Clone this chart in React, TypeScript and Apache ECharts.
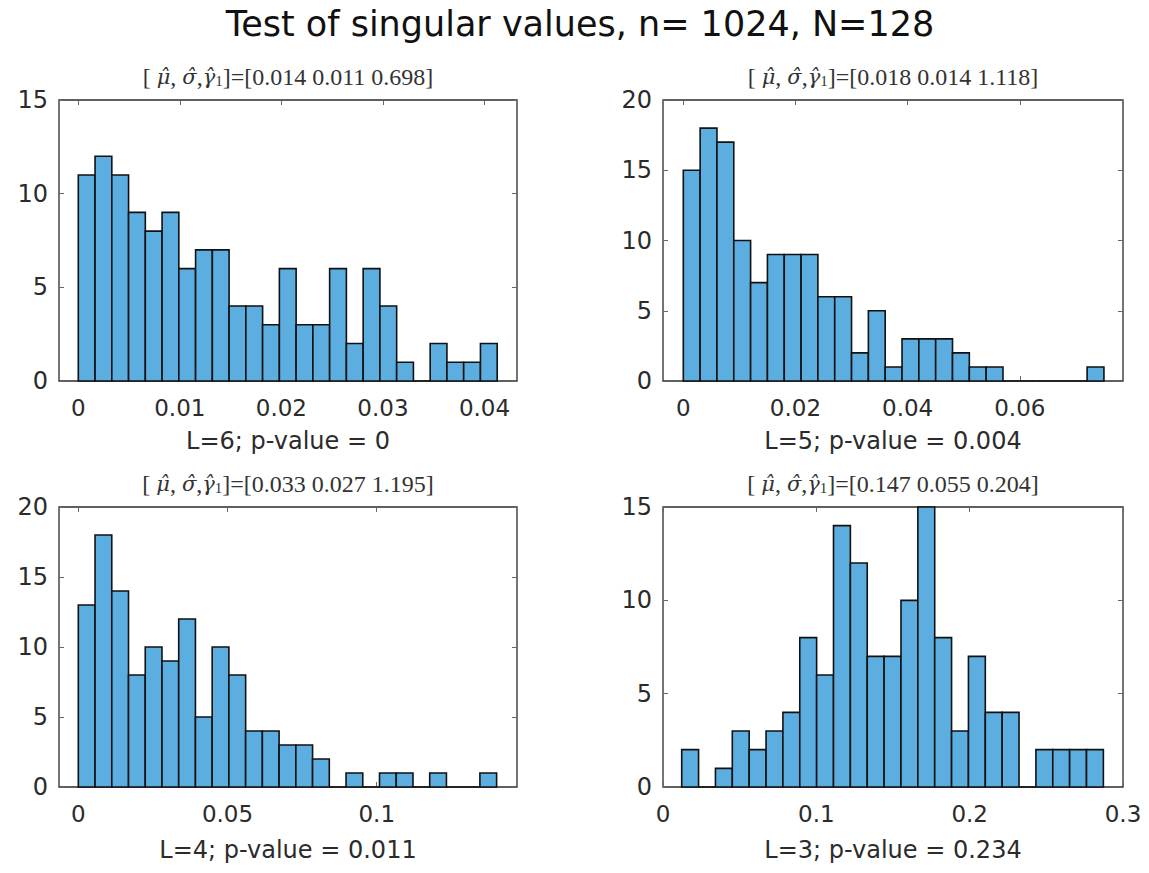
import React, { useEffect, useRef } from "react";
import * as echarts from "echarts";

// ---- data ----
const counts1 = [11, 12, 11, 9, 8, 9, 6, 7, 7, 4, 4, 3, 6, 3, 3, 6, 2, 6, 4, 1, 0, 2, 1, 1, 2];
const counts2 = [15, 18, 17, 10, 7, 9, 9, 9, 6, 6, 2, 5, 1, 3, 3, 3, 2, 1, 1, 0, 0, 0, 0, 0, 1];
const counts3 = [13, 18, 14, 8, 10, 9, 12, 5, 10, 8, 4, 4, 3, 3, 2, 0, 1, 0, 1, 1, 0, 1, 0, 0, 1];
const counts4 = [2, 0, 1, 3, 2, 3, 4, 8, 6, 14, 12, 7, 7, 10, 15, 8, 3, 7, 4, 4, 0, 2, 2, 2, 2];

const binStarts = [0, 0, 0, 0.0122];
const binWidths = [0.00165, 0.003, 0.005607, 0.011];

const xTicks1 = [0, 0.01, 0.02, 0.03, 0.04];
const xTicks2 = [0, 0.02, 0.04, 0.06];
const xTicks3 = [0, 0.05, 0.1];
const xTicks4 = [0, 0.1, 0.2, 0.3];
const yTicks15 = [0, 5, 10, 15];
const yTicks20 = [0, 5, 10, 15, 20];

const mainTitle = "Test of singular values, n= 1024, N=128";
const statValues = ["0.014 0.011 0.698", "0.018 0.014 1.118", "0.033 0.027 1.195", "0.147 0.055 0.204"];
const xNames = [
  "L=6; p-value = 0",
  "L=5; p-value = 0.004",
  "L=4; p-value = 0.011",
  "L=3; p-value = 0.234",
];

// ---- layout ----
const grids = [
  { left: 59, top: 100, width: 458, height: 281 },
  { left: 663, top: 100, width: 460, height: 281 },
  { left: 59, top: 507, width: 458, height: 280 },
  { left: 663, top: 507, width: 460, height: 280 },
];
const xRanges = [
  [-0.0019, 0.0432],
  [-0.00362, 0.0784],
  [-0.00647, 0.147],
  [0, 0.3],
];
const yMaxes = [15, 20, 20, 15];
const xTickSets = [xTicks1, xTicks2, xTicks3, xTicks4];
const yTickSets = [yTicks15, yTicks20, yTicks20, yTicks15];
const countSets = [counts1, counts2, counts3, counts4];
const nameGaps = [48, 48, 51, 51];

const AXIS_COLOR = "#2b2b2b";
const TICK_COLOR = "#666";
const BAR_COLOR = "#5cade0";
const SANS = "'DejaVu Sans', sans-serif";
const SERIF = "'Liberation Serif', 'Times New Roman', serif";
const MATHSERIF = "'DejaVu Serif', serif";

function fmt(v: number) {
  return String(Number(v.toFixed(4)));
}

export default function App() {
  const ref = useRef<HTMLDivElement>(null);
  useEffect(() => {
    if (!ref.current) return;
    const chart = echarts.init(ref.current, undefined, { renderer: "svg" });

    const xAxis: any[] = [];
    const yAxis: any[] = [];
    const series: any[] = [];
    const graphic: any[] = [];

    grids.forEach((g, i) => {
      const xt = xTickSets[i];
      const yt = yTickSets[i];
      const tick = (vals?: number[]) => ({
        show: true,
        inside: true,
        length: 5,
        ...(vals ? { customValues: vals } : {}),
        lineStyle: { color: TICK_COLOR, width: 1 },
      });
      xAxis.push({
        type: "value",
        gridIndex: i,
        position: "bottom",
        min: xRanges[i][0],
        max: xRanges[i][1],
        splitLine: { show: false },
        axisLine: { show: false, onZero: false },
        axisTick: tick(xt),
        axisLabel: {
          show: true,
          customValues: xt,
          formatter: (v: number) => fmt(v),
          color: AXIS_COLOR,
          fontFamily: SANS,
          fontSize: 23,
          margin: 15,
        },
        name: xNames[i],
        nameLocation: "middle",
        nameGap: nameGaps[i],
        nameTextStyle: { color: AXIS_COLOR, fontFamily: SANS, fontSize: 24 },
      });
      xAxis.push({
        type: "value",
        gridIndex: i,
        position: "top",
        min: xRanges[i][0],
        max: xRanges[i][1],
        splitLine: { show: false },
        axisLine: { show: false, onZero: false },
        axisTick: tick(xt),
        axisLabel: { show: false },
      });
      yAxis.push({
        type: "value",
        gridIndex: i,
        position: "left",
        min: 0,
        max: yMaxes[i],
        interval: 5,
        splitLine: { show: false },
        axisLine: { show: false, onZero: false },
        axisTick: tick(yt),
        axisLabel: {
          color: AXIS_COLOR,
          fontFamily: SANS,
          fontSize: 24,
          margin: 11,
          customValues: yt,
        },
      });
      yAxis.push({
        type: "value",
        gridIndex: i,
        position: "right",
        min: 0,
        max: yMaxes[i],
        interval: 5,
        splitLine: { show: false },
        axisLine: { show: false, onZero: false },
        axisTick: tick(yt),
        axisLabel: { show: false },
      });

      const start = binStarts[i];
      const w = binWidths[i];
      const data = countSets[i].map((c, k) => [start + k * w, start + (k + 1) * w, c]);
      series.push({
        type: "custom",
        xAxisIndex: i * 2,
        yAxisIndex: i * 2,
        data,
        clip: false,
        z: 1,
        renderItem: (_params: any, api: any) => {
          const p0 = api.coord([api.value(0), api.value(2)]);
          const p1 = api.coord([api.value(1), 0]);
          return {
            type: "rect",
            shape: { x: p0[0], y: p0[1], width: p1[0] - p0[0], height: p1[1] - p0[1] },
            style: { fill: BAR_COLOR, stroke: "#111", lineWidth: 1.6 },
          };
        },
      });

      graphic.push({
        type: "text",
        x: g.left + g.width / 2,
        y: g.top - 23,
        style: {
          text: `[ {m|\u03bc\u0302}, {m|\u03c3\u0302},{m|\u03b3\u0302}{s|1}]=[${statValues[i]}]`,
          fill: "#333",
          font: `24px ${SERIF}`,
          textAlign: "center",
          textVerticalAlign: "middle",
          rich: {
            m: { fontFamily: MATHSERIF, fontStyle: "italic", fontSize: 21, fill: "#333" },
            s: { fontFamily: SERIF, fontSize: 15, fill: "#333", padding: [8, 0, 0, 0] },
          },
        },
      });
    });

    graphic.push({
      type: "text",
      x: 580,
      y: 24,
      style: {
        text: mainTitle,
        fill: "#111",
        font: `35px ${SANS}`,
        textAlign: "center",
        textVerticalAlign: "middle",
      },
    });

    chart.setOption({
      animation: false,
      backgroundColor: "#ffffff",
      grid: grids.map((g) => ({
        ...g,
        show: true,
        borderColor: AXIS_COLOR,
        borderWidth: 1.3,
        backgroundColor: "transparent",
        containLabel: false,
      })),
      xAxis,
      yAxis,
      series,
      graphic,
    });
    return () => chart.dispose();
  }, []);
  return (
    <div
      ref={ref}
      style={{ position: "absolute", left: 0, top: 0, width: 1149, height: 873, background: "#fff" }}
    />
  );
}
